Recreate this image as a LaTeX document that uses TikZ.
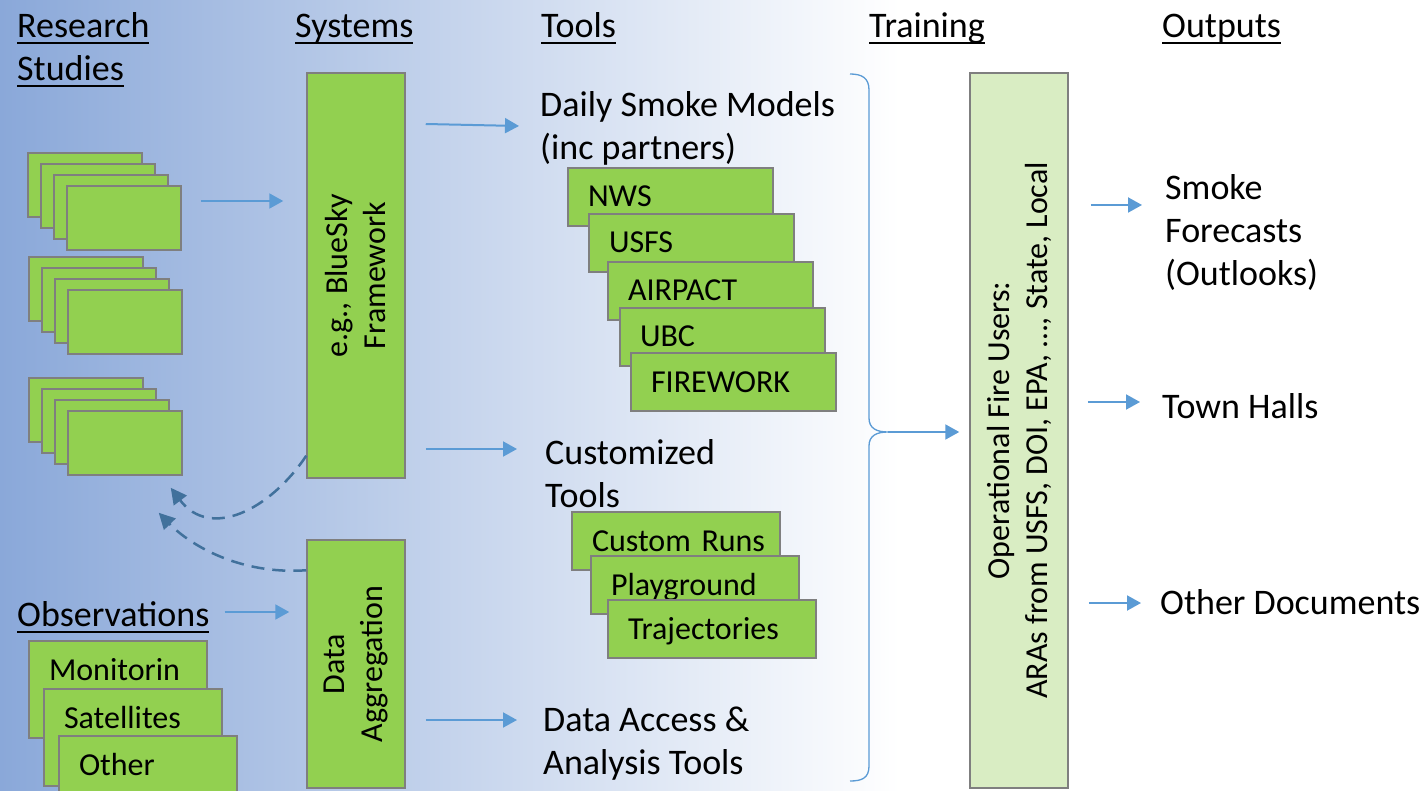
\documentclass[tikz,border=0pt]{standalone}
\usepackage{fontspec}
\setmainfont{Carlito}
\usetikzlibrary{shapes, arrows.meta, positioning}
\definecolor{boxgreen}{HTML}{92D050}
\definecolor{palegreen}{HTML}{D9EDC3}
\definecolor{boxgray}{HTML}{7F7F7F}
\definecolor{arrowblue}{HTML}{5B9BD5}
\definecolor{dashblue}{HTML}{41719C}
\definecolor{bgblue}{HTML}{8AA8D9}
\newcommand{\bigfont}{\fontsize{36}{43}\selectfont}
\newcommand{\boxfont}{\fontsize{32}{38}\selectfont}
\newcommand{\ulhead}[1]{\setbox0=\hbox{#1}\rlap{\rule[-7pt]{\wd0}{2.4pt}}\box0}
\tikzstyle{textblock} = [anchor=north west, inner sep=0pt, align=left, font=\bigfont]
\tikzstyle{paper} = [rectangle, draw=boxgray, line width=1.5pt, fill=boxgreen, minimum width=114pt, minimum height=64pt, inner sep=0pt]
\tikzstyle{model} = [rectangle, draw=boxgray, line width=1.5pt, fill=boxgreen, minimum height=58pt, text width=165pt, inner xsep=20pt, inner ysep=0pt, text height=24pt, text depth=4pt, align=left, font=\boxfont]
\tikzstyle{toolbox} = [model, text width=168pt]
\tikzstyle{obs} = [model, minimum height=97pt, text width=138pt, text height=39pt, text depth=58pt]
\tikzstyle{system} = [rectangle, draw=boxgray, line width=1.5pt, fill=boxgreen, minimum width=98pt, inner sep=0pt]
\tikzstyle{users} = [system, fill=palegreen]
\tikzstyle{vertical} = [rotate=90, align=center, font=\boxfont]
\tikzstyle{edge} = [line width=2pt, draw=arrowblue, ->, >={Triangle[length=14pt, width=15pt]}]
\tikzstyle{backedge} = [line width=2.5pt, draw=dashblue, dash pattern=on 13pt off 8pt, ->, >={Triangle[length=16pt, width=16pt]}]
\tikzstyle{bracket} = [draw=arrowblue, line width=1.3pt]

\begin{document}
\begin{tikzpicture}[x=1pt, y=-1pt]

\useasboundingbox (0,0) rectangle (1427,791);
\clip (0,0) rectangle (1427,791);
\shade [left color=bgblue, right color=white] (0,0) rectangle (900,791);
\fill [white] (900,0) rectangle (1427,791);

\node (0) [textblock] at (17,7) {\strut\ulhead{Research}\\\ulhead{Studies}};
\node (1) [textblock] at (295,7) {\strut\ulhead{Systems}};
\node (4) [textblock] at (541,7) {\strut\ulhead{Tools}};
\node (16) [textblock] at (869,7) {\strut\ulhead{Training}};
\node (18) [textblock] at (1162,7) {\strut\ulhead{Outputs}};

\node (r1a) [paper] at (85,185) {};
\node (r1b) [paper, node distance=11pt, below of=r1a, xshift=13pt] {};
\node (r1c) [paper, node distance=11pt, below of=r1b, xshift=13pt] {};
\node (r1d) [paper, node distance=11pt, below of=r1c, xshift=13pt] {};
\node (r2a) [paper] at (86,289) {};
\node (r2b) [paper, node distance=11pt, below of=r2a, xshift=13pt] {};
\node (r2c) [paper, node distance=11pt, below of=r2b, xshift=13pt] {};
\node (r2d) [paper, node distance=11pt, below of=r2c, xshift=13pt] {};
\node (r3a) [paper] at (86,410) {};
\node (r3b) [paper, node distance=11pt, below of=r3a, xshift=13pt] {};
\node (r3c) [paper, node distance=11pt, below of=r3b, xshift=13pt] {};
\node (r3d) [paper, node distance=11pt, below of=r3c, xshift=13pt] {};

\node (2) [system, minimum height=405pt] at (356,275.5) {};
\node (2t) [vertical] at (2) {e.g., BlueSky\\Framework};
\node (3) [system, minimum height=248pt] at (356,664) {};
\node (3t) [vertical] at (3) {Data\\Aggregation};

\node (5) [textblock] at (540,86) {\strut Daily Smoke Models\\(inc partners)};
\node (6) [model] at (670.5,197) {NWS};
\node (7) [model, node distance=46pt, below of=6, xshift=21pt] {USFS};
\node (8) [model, node distance=48pt, below of=7, xshift=19pt] {AIRPACT};
\node (9) [model, node distance=46pt, below of=8, xshift=12pt] {UBC};
\node (10) [model, node distance=45pt, below of=9, xshift=11pt] {FIREWORK};
\node (11) [textblock] at (545,434) {\strut Customized\\Tools};
\node (12) [toolbox] at (676,541) {Custom~Runs};
\node (13) [toolbox, node distance=44pt, below of=12, xshift=19pt] {Playground};
\node (14) [toolbox, node distance=44pt, below of=13, xshift=17pt] {Trajectories};
\node (15) [textblock] at (543,701) {\strut Data Access \&\\Analysis Tools};

\node (17) [users, minimum height=715pt] at (1019,430.5) {};
\node (17t) [vertical] at (17) {Operational Fire Users:\\ARAs from USFS, DOI, EPA, …, State, Local};

\node (19) [textblock] at (1165,169) {\strut Smoke\\Forecasts\\(Outlooks)};
\node (20) [textblock] at (1162,388) {\strut Town Halls};
\node (21) [textblock] at (1160,584) {\strut Other Documents};

\node (22) [textblock] at (17,596) {\strut\ulhead{Observations}};
\node (o1) [obs] at (118,689.5) {Monitorin};
\node (o2) [obs, node distance=48pt, below of=o1, xshift=15pt] {Satellites};
\node (o3) [obs, node distance=47pt, below of=o2, xshift=15pt] {Other};

\coordinate (b) at (888,432);
\draw [bracket] (850,74) .. controls (862,74) and (869,78) .. (869,90) -- (869,418) .. controls (869,428) and (876,432) .. (b) .. controls (876,432) and (869,436) .. (869,446) -- (869,766) .. controls (869,778) and (862,781) .. (850,781);

\draw [edge] ([shift={(19,-17)}]r1d.east) -- ([shift={(-23,-74.5)}]2.west);
\draw [edge] ([shift={(20,-151.5)}]2.east) -- ([shift={(-21,40)}]5.north west);
\draw [edge] ([shift={(20,173.5)}]2.east) -- ([shift={(-28,15)}]11.north west);
\draw [edge] ([shift={(20,56)}]3.east) -- ([shift={(-26,19)}]15.north west);
\draw [edge] ([shift={(15,16)}]22.north east) -- ([shift={(-17,-52)}]3.west);
\draw [edge, shorten >=10pt] (b) -- (b -| 17.west);
\draw [edge] ([shift={(22,-225.5)}]17.east) -- ([shift={(-23,36)}]19.north west);
\draw [edge] ([shift={(19,-28.5)}]17.east) -- ([shift={(-22,14)}]20.north west);
\draw [edge] ([shift={(20,172.5)}]17.east) -- ([shift={(-19,19)}]21.north west);

\draw [backedge] ([yshift=23pt]2.south west) .. controls (270,510) and (210,540) .. ([shift={(-12,12)}]r3d.south east);
\draw [backedge] ([yshift=-31pt]3.north west) .. controls (240,575) and (190,545) .. ([shift={(-24,37)}]r3d.south east);

\end{tikzpicture}
\end{document}
